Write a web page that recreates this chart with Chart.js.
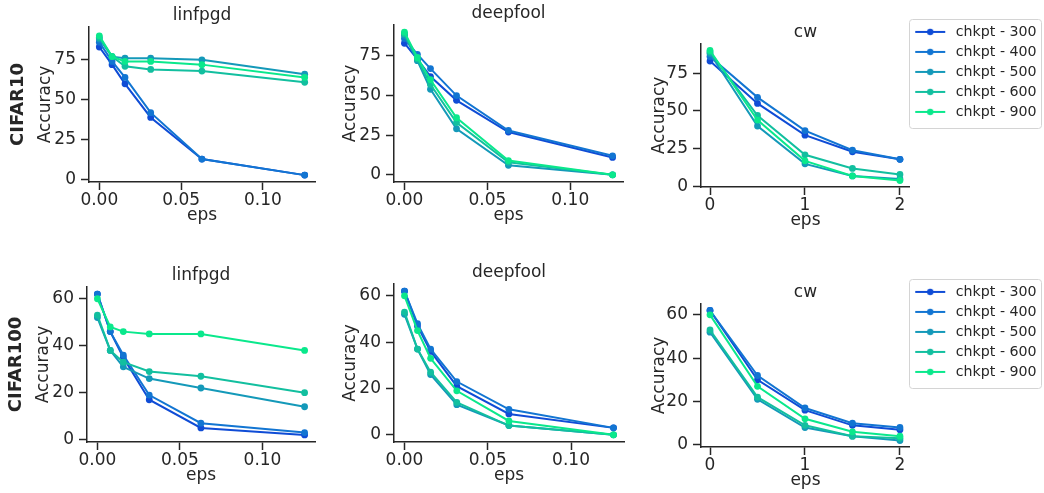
<!DOCTYPE html>
<html>
<head>
<meta charset="utf-8">
<script src="https://cdn.jsdelivr.net/npm/chart.js@4.4.0/dist/chart.umd.min.js"></script>
<style>
  body { margin: 0; background: #fff; }
  #fig { position: relative; width: 1044px; height: 493px; overflow: hidden; background: #fff; }
  #fig canvas { position: absolute; }
</style>
</head>
<body>
<div id="fig"></div>
<script>
// x values of the attacks
const epsLinf = [0, 0.0078, 0.0157, 0.0314, 0.0627, 0.1255];
const epsCw = [0, 0.5, 1, 1.5, 2];
const checkpoints = ['chkpt - 300', 'chkpt - 400', 'chkpt - 500', 'chkpt - 600', 'chkpt - 900'];
const colors = ['#0f4cd6', '#1275d2', '#1499b9', '#12bf9f', '#0ae88c'];

// accuracy per checkpoint (rows follow `checkpoints`)
const c10Linfpgd = [
  [83, 72, 60, 39, 13, 3],
  [86, 74, 64, 42, 13, 3],
  [88, 77, 76, 76, 75, 66],
  [89, 77, 71, 69, 68, 61],
  [90, 77, 74, 74, 72, 64]
];
const c10Deepfool = [
  [83, 73, 62, 47, 27, 11],
  [86, 76, 67, 50, 28, 12],
  [88, 72, 54, 29, 6, 0],
  [89, 73, 57, 33, 8, 0],
  [90, 74, 60, 36, 9, 0]
];
const c10Cw = [
  [83, 55, 34, 23, 18],
  [86, 59, 37, 24, 18],
  [88, 40, 15, 7, 5],
  [89, 47, 21, 12, 8],
  [90, 44, 17, 7, 4]
];
const c100Linfpgd = [
  [62, 46, 35, 17, 5, 2],
  [62, 46, 36, 19, 7, 3],
  [52, 38, 31, 26, 22, 14],
  [53, 38, 33, 29, 27, 20],
  [60, 48, 46, 45, 45, 38]
];
const c100Deepfool = [
  [62, 47, 36, 21, 9, 3],
  [62, 48, 37, 23, 11, 3],
  [52, 37, 26, 13, 4, 0],
  [53, 37, 27, 14, 4, 0],
  [60, 45, 33, 19, 6, 0]
];
const c100Cw = [
  [62, 30, 16, 9, 7],
  [62, 32, 17, 10, 8],
  [52, 21, 8, 4, 2],
  [53, 22, 9, 4, 3],
  [60, 27, 12, 6, 4]
];

// tick labels
const epsTicks = [0, 0.05, 0.10];
const cwTicks = [0, 1, 2];
const c10Ticks = [0, 25, 50, 75];
const c100Ticks = [0, 20, 40, 60];

const FONT = "'DejaVu Sans', sans-serif";
const INK = '#262626';
const SIZE = 17;
Chart.defaults.font.family = FONT;
Chart.defaults.color = INK;

const fig = document.getElementById('fig');

// legend icon: short line with a dot, like matplotlib
function legendIcon(color) {
  const c = document.createElement('canvas');
  c.width = 36; c.height = 10;
  const g = c.getContext('2d');
  g.strokeStyle = color; g.lineWidth = 2;
  g.beginPath(); g.moveTo(1, 5); g.lineTo(31, 5); g.stroke();
  g.fillStyle = color;
  g.beginPath(); g.arc(16, 5, 3.2, 0, Math.PI * 2); g.fill();
  return c;
}
const icons = colors.map(legendIcon);

// frame around the legend
const legendFrame = {
  id: 'legendFrame',
  beforeDraw(chart) {
    if (!chart.options.plugins.legend.display) return;
    const boxes = chart.legend.legendHitBoxes;
    if (!boxes || !boxes.length) return;
    const l = Math.min(...boxes.map(b => b.left)) - 7;
    const t = Math.min(...boxes.map(b => b.top)) - 6;
    const r = Math.max(...boxes.map(b => b.left + b.width)) + 4;
    const b = Math.max(...boxes.map(b => b.top + b.height)) + 9;
    const ctx = chart.ctx;
    ctx.save();
    ctx.beginPath();
    ctx.roundRect(Math.round(l) + 0.5, Math.round(t) + 0.5, Math.round(r - l), Math.round(b - t), 3);
    ctx.fillStyle = 'rgba(255,255,255,0.8)';
    ctx.fill();
    ctx.strokeStyle = '#d4d4d4';
    ctx.lineWidth = 1;
    ctx.stroke();
    ctx.restore();
  }
};

// bold row label on the left of the first column
const rowLabel = {
  id: 'rowLabel',
  afterDraw(chart, args, opts) {
    if (!opts.text) return;
    const {ctx, chartArea} = chart;
    ctx.save();
    ctx.translate(chartArea.left - 71, (chartArea.top + chartArea.bottom) / 2);
    ctx.rotate(-Math.PI / 2);
    ctx.font = "bold 18px " + FONT;
    ctx.fillStyle = INK;
    ctx.textAlign = 'center';
    ctx.textBaseline = 'middle';
    ctx.fillText(opts.text, 0, 0);
    ctx.restore();
  }
};

const LEGEND_SIZE = 14.2;
const measure = document.createElement('canvas').getContext('2d');
measure.font = LEGEND_SIZE + "px " + FONT;
const legendTextW = Math.max(...checkpoints.map(s => measure.measureText(s).width));

// box = [left, top, right, bottom] of each plot area; yW = width of the y axis box
const panels = [
  {title: 'linfpgd', rows: c10Linfpgd, xs: epsLinf, xTicks: epsTicks, yTicks: c10Ticks,
   box: [89, 27, 315, 182], x: [-0.0063, 0.1318], y: [-1.3, 95.5], row: 'CIFAR10', yW: 60, yOff: 42},
  {title: 'deepfool', rows: c10Deepfool, xs: epsLinf, xTicks: epsTicks, yTicks: c10Ticks,
   box: [394, 25, 623, 182], x: [-0.0063, 0.1318], y: [-4.5, 94.5], yW: 60, yOff: 42},
  {title: 'cw', rows: c10Cw, xs: epsCw, xTicks: cwTicks, yTicks: c10Ticks,
   box: [701, 44, 910, 187], x: [-0.095, 2.105], y: [-0.3, 94.3], legend: true, yW: 190, yOff: 40},
  {title: 'linfpgd', rows: c100Linfpgd, xs: epsLinf, xTicks: epsTicks, yTicks: c100Ticks,
   box: [87, 287, 315, 442], x: [-0.0063, 0.1318], y: [-1, 65], row: 'CIFAR100', yW: 60, yOff: 42},
  {title: 'deepfool', rows: c100Deepfool, xs: epsLinf, xTicks: epsTicks, yTicks: c100Ticks,
   box: [394, 284, 624, 442], x: [-0.0063, 0.1318], y: [-3.1, 65.1], yW: 60, yOff: 42},
  {title: 'cw', rows: c100Cw, xs: epsCw, xTicks: cwTicks, yTicks: c100Ticks,
   box: [701, 304, 910, 447], x: [-0.095, 2.105], y: [-1, 65], legend: true, yW: 190, yOff: 40}
];

const TOP = 25, X_H = 48;

function axisStyle() {
  return {
    grid: {drawOnChartArea: false, drawTicks: true, tickLength: 8, tickWidth: 1.5, color: INK, tickColor: INK},
    border: {display: true, color: INK, width: 1.5}
  };
}

panels.forEach(p => {
  const [l, t, r, b] = p.box;
  const padL = p.row ? 30 : 0;
  // legend box = padding on both sides + marker + gap + text
  const legendW = p.legend ? 12 + 33 + LEGEND_SIZE / 2 + legendTextW : 0;
  const padR = p.legend ? 5 : 5;
  const inner = padL + p.yW + (r - l) + legendW + padR;
  const w = Math.ceil(inner);
  const h = TOP + (b - t) + X_H;

  const canvas = document.createElement('canvas');
  canvas.width = w; canvas.height = h;
  canvas.style.width = w + 'px'; canvas.style.height = h + 'px';
  canvas.style.left = (l - p.yW - padL) + 'px';
  canvas.style.top = (t - TOP) + 'px';
  fig.appendChild(canvas);

  const datasets = p.rows.map((vals, i) => ({
    label: checkpoints[i],
    data: vals.map((v, k) => ({x: p.xs[k], y: v})),
    borderColor: colors[i],
    backgroundColor: colors[i],
    pointBackgroundColor: colors[i],
    borderWidth: 2,
    pointRadius: 3.4,
    pointBorderWidth: 0,
    order: p.rows.length - i
  }));

  const isEps = p.xTicks === epsTicks;

  new Chart(canvas, {
    type: 'line',
    data: {datasets},
    options: {
      responsive: false,
      animation: false,
      layout: {padding: {left: padL, right: padR + (w - inner), top: 0, bottom: 0}},
      scales: {
        x: {
          type: 'linear', min: p.x[0], max: p.x[1],
          afterBuildTicks: s => { s.ticks = p.xTicks.map(v => ({value: v})); },
          afterFit: s => { s.height = X_H; },
          ticks: {
            padding: 0, color: INK, font: {size: SIZE},
            callback: v => isEps ? v.toFixed(2) : String(v)
          },
          title: {display: true, text: 'eps', color: INK, font: {size: SIZE}, padding: {top: 0, bottom: 4.5}},
          ...axisStyle()
        },
        y: {
          type: 'linear', min: p.y[0], max: p.y[1],
          afterBuildTicks: s => { s.ticks = p.yTicks.map(v => ({value: v})); },
          afterFit: s => { s.width = p.yW; },
          ticks: {padding: 5, color: INK, font: {size: SIZE}, callback: v => String(v)},
          title: {display: true, text: 'Accuracy', color: INK, font: {size: SIZE},
                  padding: {top: p.yW - p.yOff - 11.9, bottom: 0}},
          ...axisStyle()
        }
      },
      plugins: {
        title: {
          display: true, text: p.title, color: INK, fullSize: false,
          font: {size: SIZE, weight: 'normal', lineHeight: 1.25},
          padding: {top: 3, bottom: 0.75}
        },
        legend: {
          display: !!p.legend,
          position: 'right', align: 'start',
          labels: {
            usePointStyle: true, pointStyleWidth: 33, boxHeight: LEGEND_SIZE,
            padding: 20 - LEGEND_SIZE, color: INK, font: {size: LEGEND_SIZE},
            sort: (a, b) => a.datasetIndex - b.datasetIndex,
            generateLabels: chart => Chart.defaults.plugins.legend.labels.generateLabels(chart)
              .map(item => ({...item, pointStyle: icons[item.datasetIndex]}))
          }
        },
        tooltip: {enabled: false},
        rowLabel: {text: p.row}
      }
    },
    plugins: [legendFrame, rowLabel]
  });
});
</script>
</body>
</html>
